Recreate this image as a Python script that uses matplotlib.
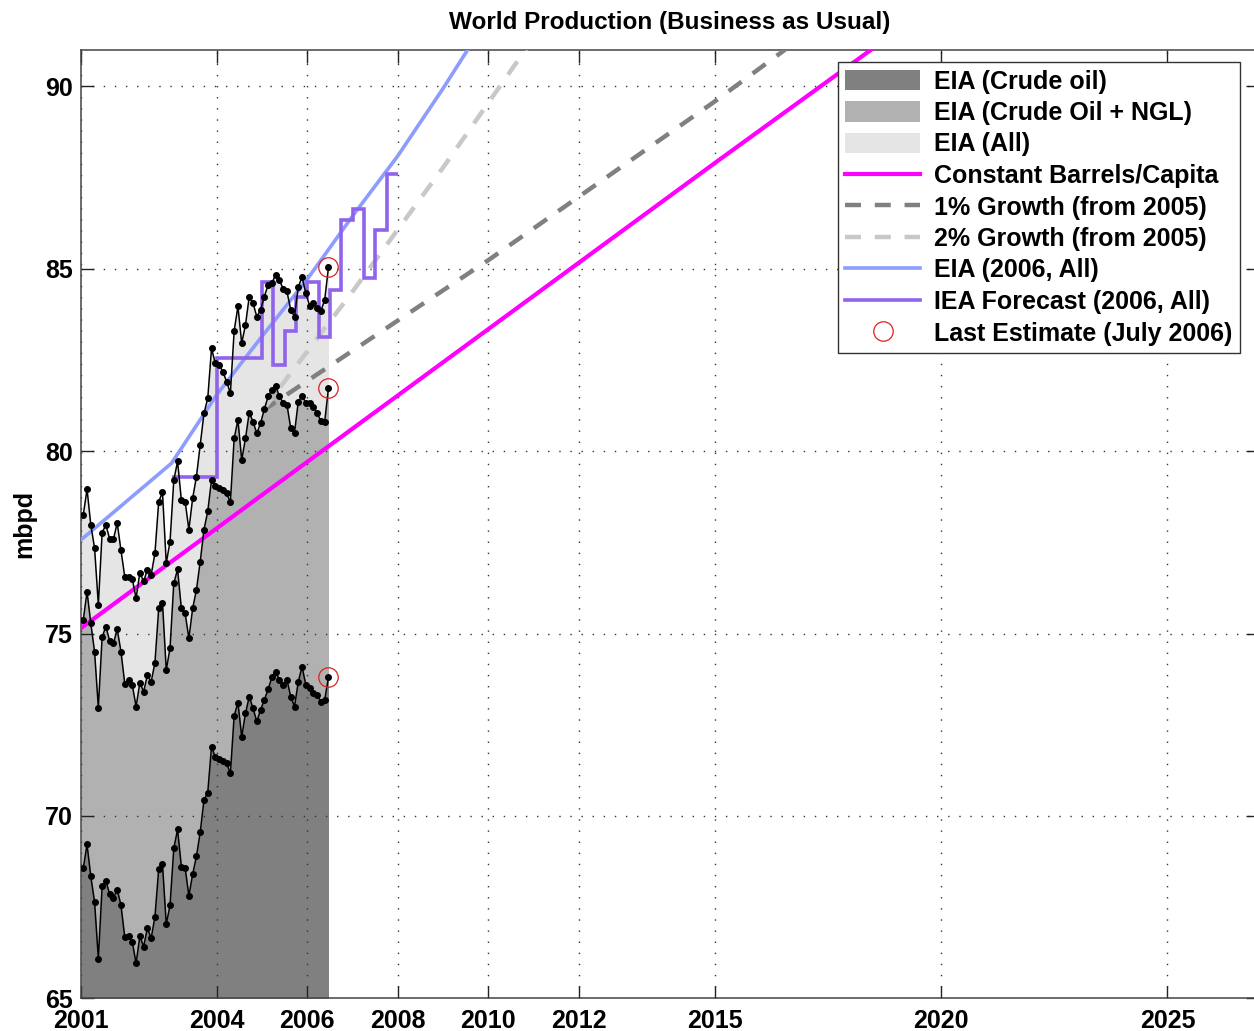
import numpy as np
import matplotlib
matplotlib.use('Agg')
import matplotlib.pyplot as plt
from matplotlib.patches import Patch
from matplotlib.lines import Line2D

plt.rcParams['font.family'] = ['Liberation Sans', 'DejaVu Sans']
plt.rcParams['font.weight'] = 'bold'

# ---------------- data (monthly, Jan 2001 - Jun 2006) ----------------
crude = [68.56, 69.22, 68.34, 67.64, 66.09, 68.07, 68.22, 67.85, 67.75, 67.98, 67.55, 66.68,
         66.70, 66.55, 65.96, 66.70, 66.42, 66.92, 66.65, 67.23, 68.55, 68.68, 67.03, 67.55,
         69.11, 69.63, 68.61, 68.58, 67.81, 68.40, 68.89, 69.55, 70.44, 70.64, 71.90, 71.61,
         71.56, 71.50, 71.44, 71.17, 72.74, 73.11, 72.17, 72.81, 73.27, 72.95, 72.59, 72.91,
         73.18, 73.47, 73.80, 73.96, 73.73, 73.59, 73.73, 73.27, 73.00, 73.68, 74.09, 73.59,
         73.50, 73.36, 73.32, 73.13, 73.18, 73.80]
crude_ngl = [75.37, 76.15, 75.28, 74.50, 72.97, 74.91, 75.19, 74.80, 74.73, 75.12, 74.50, 73.63,
             73.74, 73.59, 73.00, 73.65, 73.41, 73.86, 73.68, 74.20, 75.69, 75.85, 74.00, 74.60,
             76.38, 76.76, 75.69, 75.56, 74.87, 75.69, 76.20, 76.97, 77.85, 78.35, 79.21, 79.05,
             79.00, 78.95, 78.85, 78.60, 80.35, 80.86, 79.76, 80.35, 81.06, 80.81, 80.49, 80.77,
             81.15, 81.50, 81.68, 81.79, 81.50, 81.33, 81.27, 80.63, 80.51, 81.36, 81.52, 81.33,
             81.31, 81.22, 81.04, 80.83, 80.81, 81.73]
all_liquids = [78.25, 78.96, 77.98, 77.34, 75.79, 77.77, 77.98, 77.59, 77.59, 78.03, 77.28, 76.56,
               76.56, 76.49, 75.97, 76.67, 76.43, 76.75, 76.61, 77.20, 78.62, 78.87, 76.93, 77.52,
               79.21, 79.72, 78.66, 78.62, 77.85, 78.71, 79.30, 80.17, 81.04, 81.45, 82.82, 82.41,
               82.37, 82.18, 81.91, 81.59, 83.30, 83.97, 82.96, 83.46, 84.24, 84.06, 83.69, 83.87,
               84.24, 84.56, 84.61, 84.84, 84.70, 84.44, 84.38, 83.87, 83.69, 84.51, 84.77, 84.33,
               83.99, 84.06, 83.92, 83.85, 84.15, 85.04]

pop_years = [2001, 2005, 2010, 2015, 2020]
pop_vals = [75.15, 78.80, 83.35, 87.90, 92.40]

g1_years = [2005, 2010, 2015, 2020]
g1_vals = [81.10, 85.24, 89.59, 94.16]

g2_years = [2005, 2007, 2009, 2011]
g2_vals = [81.10, 84.38, 87.78, 91.33]

eia_years = [2001, 2002, 2003, 2004, 2005, 2006, 2007, 2008, 2009, 2010]
eia_vals = [77.57, 78.62, 79.67, 81.55, 83.15, 84.72, 86.45, 88.10, 89.95, 91.90]

iea_edges = [2003, 2004, 2005, 2005.25, 2005.5, 2005.75, 2006, 2006.25, 2006.5,
             2006.75, 2007, 2007.25, 2007.5, 2007.75, 2008]
iea_vals = [79.30, 82.55, 84.65, 82.37, 83.30, 84.24, 84.65, 83.12, 84.42,
            86.34, 86.63, 84.74, 86.07, 87.61]

xticks = [2001, 2004, 2006, 2008, 2010, 2012, 2015, 2020, 2025]
yticks = [65, 70, 75, 80, 85, 90]

# ---------------- figure ----------------
fig = plt.figure(figsize=(12.54, 10.31), dpi=100)
AX_L, AX_W, AX_TOP, AX_H = 81, 1177, 50, 948.3
ax = fig.add_axes([AX_L / 1254, 1 - (AX_TOP + AX_H) / 1031, AX_W / 1254, AX_H / 1031])

n = len(crude)
t = 2001 + (np.arange(n) + 0.6) / 12.0
tf = np.r_[2001.0, t]

c_crude = '#808080'
c_ngl = '#b1b1b1'
c_all = '#e5e5e5'

ax.fill_between(tf, 65, np.r_[all_liquids[0], all_liquids], color=c_all, lw=0, zorder=1)
ax.fill_between(tf, 65, np.r_[crude_ngl[0], crude_ngl], color=c_ngl, lw=0, zorder=1.1)
ax.fill_between(tf, 65, np.r_[crude[0], crude], color=c_crude, lw=0, zorder=1.2)

ax.plot(pop_years, pop_vals, color='#ff00ff', lw=3.0, zorder=3, solid_capstyle='butt')
ax.plot(g1_years, g1_vals, color='#808080', lw=3.2, ls=(0, (3.6, 3.1)), zorder=3)
ax.plot(g2_years, g2_vals, color='#c8c8c8', lw=3.2, ls=(0, (3.6, 3.1)), zorder=3)
ax.plot(eia_years, eia_vals, color='#8c9cff', lw=2.6, zorder=3.2)
ax.stairs(iea_vals, iea_edges, baseline=None, color='#8f63ea', lw=2.6, zorder=3.3)

for s in (crude, crude_ngl, all_liquids):
    ax.plot(t, s, color='black', lw=1.1, marker='o', ms=4.0, zorder=4)
    ax.plot(t[-1], s[-1], ls='none', marker='o', ms=14, mfc='none', mec='#dd2020',
            mew=0.9, zorder=5)

ax.set_xlim(2001, 2027.0)
ax.set_ylim(65, 91.0)
ax.set_xticks(xticks)
ax.set_yticks(yticks)
ax.set_xticklabels([str(v) for v in xticks])
ax.set_yticklabels([str(v) for v in yticks])
ax.tick_params(direction='in', length=9, width=1.0, top=True, right=True,
               labelsize=18, colors='#222222', labelcolor='black')
ax.tick_params(axis='x', pad=8)
ax.tick_params(axis='y', pad=6)
ax.set_axisbelow('line')
ax.grid(True, color='#333333', lw=1.0, ls=(0, (1, 7)))
for sp in ax.spines.values():
    sp.set_linewidth(1.1)
    sp.set_color('#444444')

ax.set_ylabel('mbpd', fontsize=18, fontweight='bold', labelpad=6)
ax.set_title('World Production (Business as Usual)', fontsize=17.5, fontweight='bold', pad=15)

handles = [
    Patch(facecolor=c_crude, edgecolor='none', label='EIA (Crude oil)'),
    Patch(facecolor=c_ngl, edgecolor='none', label='EIA (Crude Oil + NGL)'),
    Patch(facecolor=c_all, edgecolor='none', label='EIA (All)'),
    Line2D([], [], color='#ff00ff', lw=3.0, label='Constant Barrels/Capita'),
    Line2D([], [], color='#808080', lw=3.2, ls=(0, (3.6, 3.1)), label='1% Growth (from 2005)'),
    Line2D([], [], color='#c8c8c8', lw=3.2, ls=(0, (3.6, 3.1)), label='2% Growth (from 2005)'),
    Line2D([], [], color='#8c9cff', lw=2.6, label='EIA (2006, All)'),
    Line2D([], [], color='#8f63ea', lw=2.6, label='IEA Forecast (2006, All)'),
    Line2D([], [], ls='none', marker='o', ms=14, mfc='none', mec='#dd2020', mew=0.9,
           label='Last Estimate (July 2006)'),
]
anchor = ((1240 - AX_L) / AX_W, (AX_TOP + AX_H - 62) / AX_H)
leg = ax.legend(handles=handles, loc='upper right', bbox_to_anchor=anchor,
                fontsize=18, frameon=True,
                fancybox=False, edgecolor='#333333', framealpha=1.0,
                handlelength=3.0, handleheight=0.9, handletextpad=0.55,
                labelspacing=0.3, borderpad=0.3, borderaxespad=0.0)
leg.get_frame().set_linewidth(1.0)
leg.set_zorder(10)

fig.savefig('out.png', dpi=100)
